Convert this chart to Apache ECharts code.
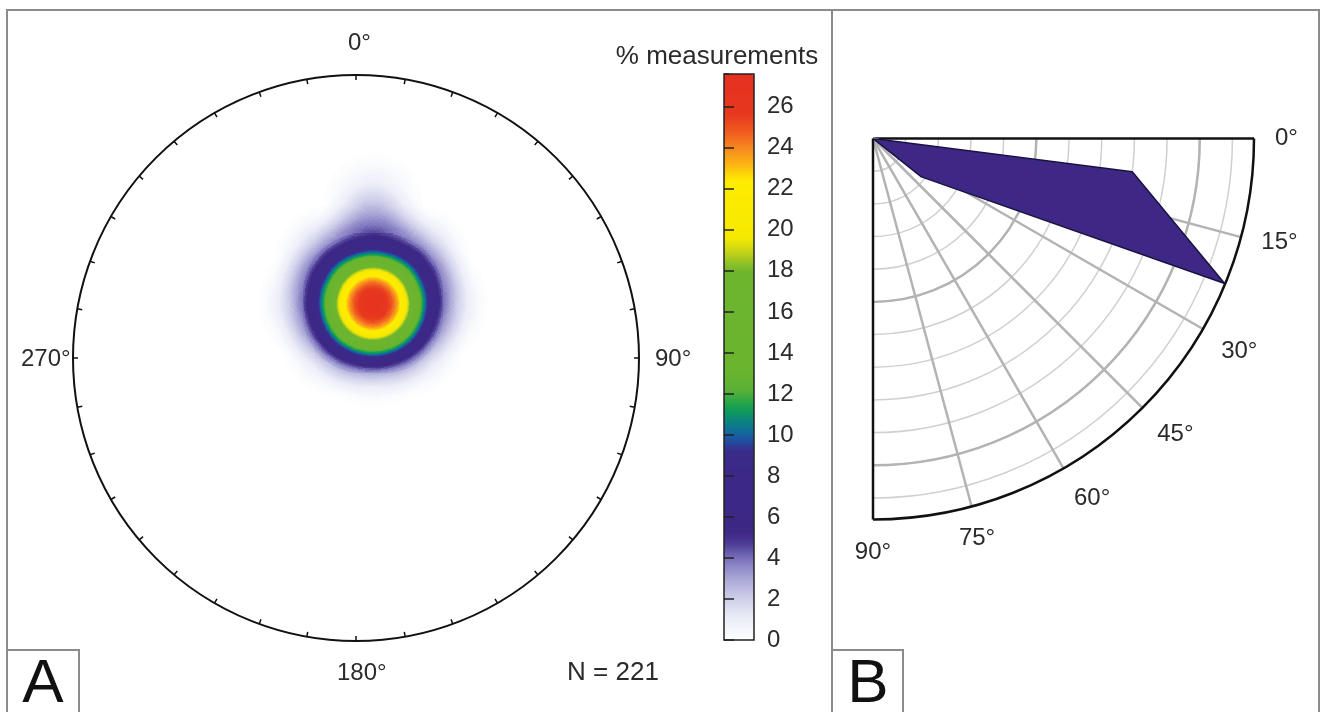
<!DOCTYPE html>
<html>
<head>
<meta charset="utf-8">
<title>Pole density and dip rose</title>
<script src="https://cdn.jsdelivr.net/npm/echarts@6.0.0/dist/echarts.min.js"></script>
<style>
  html, body { margin: 0; padding: 0; background: #fff; }
  #chart { width: 1322px; height: 712px; }
</style>
</head>
<body>
<div id="chart"></div>
<script>
// pole groups (trend / plunge in degrees, weight in %)
const poleTrend  = [17.2, 17.2, 17.2, 8.3, 30.8, 52.6, 67.6, 59.5, 321.0, 325.4, 346.8, 6.3];
const polePlunge = [73.5, 73.5, 73.5, 55.6, 58.3, 63.8, 74.2, 84.4, 82.3, 70.8, 62.1, 44.1];
const poleWeight = [27.6, 27.6, 27.6, 4.9, 5.8, 5.5, 5.2, 5.0, 5.2, 5.5, 5.8, 2.0];
const nMeasurements = 221;

// colour scale of panel A
const scaleMax = 27.6;
const scaleStep = 2;

// panel B outline (angle in degrees, radius in grid rings)
const roseAngle = [0, 7.3, 22.4, 38.4, 38.4];
const roseRadius = [0, 8.0, 11.64, 1.89, 0];
const roseMax = 11.66;

const FONT = "'Liberation Sans', Arial, Helvetica, sans-serif";
const TXT = '#2b2b2b';

// colour ramp of the bar (value -> colour)
const colorStops = [
  [0, '#ffffff'], [1, '#eceef8'], [2, '#cfcfea'], [3, '#a8a6d6'], [4, '#7870bb'],
  [4.7, '#4c3a93'], [5.3, '#3d2785'], [9.2, '#3b2a88'], [9.8, '#1c55a5'],
  [10.5, '#0a7d8c'], [11.3, '#10a050'], [12.2, '#5cb136'], [13, '#6ab42e'],
  [18, '#6eb52e'], [18.9, '#c4d21a'], [19.6, '#f5e900'], [22.4, '#ffec00'],
  [23.2, '#fdb413'], [24, '#f68720'], [24.8, '#ef5a1f'], [25.6, '#e7381f'],
  [27.6, '#e53020']
];
function colorAt(v) {
  for (let i = 0; i < colorStops.length - 1; i++) {
    const a = colorStops[i], b = colorStops[i + 1];
    if (v <= b[0]) return echarts.color.lerp((v - a[0]) / (b[0] - a[0]), [a[1], b[1]]);
  }
  return colorStops[colorStops.length - 1][1];
}
const colorList = [];
for (let v = 0; v <= scaleMax + 1e-9; v += 0.2) colorList.push(colorAt(v));

// equal-area projection of a pole, unit primitive circle
function project(trend, plunge) {
  const th = (90 - plunge) * Math.PI / 180;
  const r = Math.SQRT2 * Math.sin(th / 2);
  const t = trend * Math.PI / 180;
  return [r * Math.sin(t), r * Math.cos(t)];
}
const heatData = poleTrend.map((t, i) => project(t, polePlunge[i]).concat(poleWeight[i]));

echarts.registerMap('net', {
  type: 'FeatureCollection',
  features: [{
    type: 'Feature', properties: { name: 'net' },
    geometry: { type: 'Polygon', coordinates: [[[-1, -1], [1, -1], [1, 1], [-1, 1], [-1, -1]]] }
  }]
});

const thinColors = [];
for (let i = 0; i <= Math.floor(roseMax); i++) thinColors.push('#d0d0d0');
thinColors.push('rgba(0,0,0,0)');
const spokeColors = ['#111', '#b3b3b3', '#b3b3b3', '#b3b3b3', '#b3b3b3', '#b3b3b3', '#111'];

const chart = echarts.init(document.getElementById('chart'));
chart.setOption({
  animation: false,
  backgroundColor: '#fff',
  textStyle: { fontFamily: FONT },
  geo: {
    map: 'net', roam: false, silent: true, aspectScale: 1,
    layoutCenter: [356, 358], layoutSize: 566,
    label: { show: false },
    itemStyle: { areaColor: 'rgba(0,0,0,0)', borderColor: 'rgba(0,0,0,0)', borderWidth: 0 },
    emphasis: { disabled: true }
  },
  visualMap: {
    type: 'continuous', seriesIndex: 0, min: 0, max: scaleMax, z: 1,
    left: 724, top: 74, itemWidth: 30, itemHeight: 566, padding: 0,
    calculable: false, hoverLink: false,
    inRange: { color: colorList }
  },
  grid: { left: 724, top: 74, width: 30, height: 566, show: true, z: 10,
    borderColor: '#222', borderWidth: 1.5, backgroundColor: 'rgba(0,0,0,0)' },
  xAxis: { type: 'value', show: false },
  // ticks of the bar: both axes sit 5px inside the bar and tick outwards to its edge
  yAxis: [
    { type: 'value', position: 'right', offset: -5, min: 0, max: scaleMax, interval: scaleStep, z: 12,
      axisLine: { show: false }, splitLine: { show: false },
      axisTick: { length: 5, lineStyle: { color: '#222', width: 1.5 } },
      axisLabel: { margin: 18, fontSize: 24, color: TXT, showMaxLabel: false } },
    { type: 'value', position: 'left', offset: -5, min: 0, max: scaleMax, interval: scaleStep, z: 12,
      axisLine: { show: false }, splitLine: { show: false }, axisLabel: { show: false },
      axisTick: { length: 5, lineStyle: { color: '#222', width: 1.5 } } }
  ],
  polar: [
    { center: [356, 358], radius: 283 },
    { center: [873, 138.5], radius: 381 },
    { center: [873, 138.5], radius: 381 }
  ],
  angleAxis: [
    { polarIndex: 0, type: 'value', startAngle: 90, clockwise: true, min: 0, max: 360, interval: 10,
      axisLine: { lineStyle: { color: '#111', width: 2 } },
      axisTick: { inside: true, length: 5, lineStyle: { color: '#111', width: 1.5 } },
      axisLabel: { show: false }, splitLine: { show: false } },
    { polarIndex: 1, type: 'value', startAngle: 0, endAngle: -90, clockwise: true, min: 0, max: 90, interval: 15,
      axisLine: { lineStyle: { color: '#111', width: 2.5 } },
      axisTick: { show: false }, splitLine: { show: false },
      axisLabel: { margin: 21, fontSize: 24, color: TXT, formatter: '{value}°' } },
    { polarIndex: 2, type: 'value', startAngle: 0, endAngle: -90, clockwise: true, min: 0, max: 90, interval: 15,
      axisLine: { show: false }, axisTick: { show: false }, axisLabel: { show: false },
      splitLine: { show: true, lineStyle: { color: spokeColors, width: 2.5 } } }
  ],
  radiusAxis: [
    { polarIndex: 0, type: 'value', min: 0, max: 1, show: false },
    { polarIndex: 1, type: 'value', min: 0, max: roseMax, interval: 1,
      axisLine: { show: false }, axisTick: { show: false }, axisLabel: { show: false },
      splitLine: { show: true, lineStyle: { color: thinColors, width: 1.5 } } },
    { polarIndex: 2, type: 'value', min: 0, max: roseMax, interval: 5,
      axisLine: { show: false }, axisTick: { show: false }, axisLabel: { show: false },
      splitLine: { show: true, lineStyle: { color: ['#b3b3b3', '#b3b3b3', '#b3b3b3', 'rgba(0,0,0,0)'], width: 2.5 } } }
  ],
  series: [
    { type: 'heatmap', coordinateSystem: 'geo', geoIndex: 0, data: heatData,
      pointSize: 30, blurSize: 40, minOpacity: 1, maxOpacity: 1, silent: true },
    { type: 'line', coordinateSystem: 'polar', polarIndex: 1, z: 5, silent: true,
      data: roseRadius.map((r, i) => [r, roseAngle[i]]),
      symbol: 'none', smooth: false,
      lineStyle: { color: '#1a1240', width: 1.5 },
      areaStyle: { color: '#3f2785', opacity: 1 } }
  ],
  graphic: [
    { type: 'rect', shape: { x: 7, y: 10, width: 825, height: 720 }, style: { fill: 'none', stroke: '#8c8c8c', lineWidth: 2 } },
    { type: 'rect', shape: { x: 832, y: 10, width: 487, height: 720 }, style: { fill: 'none', stroke: '#8c8c8c', lineWidth: 2 } },
    { type: 'rect', shape: { x: 7, y: 650, width: 72, height: 70 }, style: { fill: 'none', stroke: '#8c8c8c', lineWidth: 2 } },
    { type: 'rect', shape: { x: 832, y: 650, width: 71, height: 70 }, style: { fill: 'none', stroke: '#8c8c8c', lineWidth: 2 } },
    { type: 'text', style: { text: 'A', x: 43, y: 685, align: 'center', verticalAlign: 'middle', fontSize: 62, fontFamily: FONT, fill: '#111' } },
    { type: 'text', style: { text: 'B', x: 868, y: 685, align: 'center', verticalAlign: 'middle', fontSize: 62, fontFamily: FONT, fill: '#111' } },
    { type: 'text', style: { text: '0°', x: 348, y: 43, align: 'left', verticalAlign: 'middle', fontSize: 24, fontFamily: FONT, fill: TXT } },
    { type: 'text', style: { text: '90°', x: 655, y: 359, align: 'left', verticalAlign: 'middle', fontSize: 24, fontFamily: FONT, fill: TXT } },
    { type: 'text', style: { text: '180°', x: 337, y: 673, align: 'left', verticalAlign: 'middle', fontSize: 24, fontFamily: FONT, fill: TXT } },
    { type: 'text', style: { text: '270°', x: 21, y: 359, align: 'left', verticalAlign: 'middle', fontSize: 24, fontFamily: FONT, fill: TXT } },
    { type: 'text', style: { text: 'N = ' + nMeasurements, x: 613, y: 673, align: 'center', verticalAlign: 'middle', fontSize: 26, fontFamily: FONT, fill: TXT } },
    { type: 'text', style: { text: '% measurements', x: 717, y: 57, align: 'center', verticalAlign: 'middle', fontSize: 26, fontFamily: FONT, fill: TXT } }
  ]
});
</script>
</body>
</html>
